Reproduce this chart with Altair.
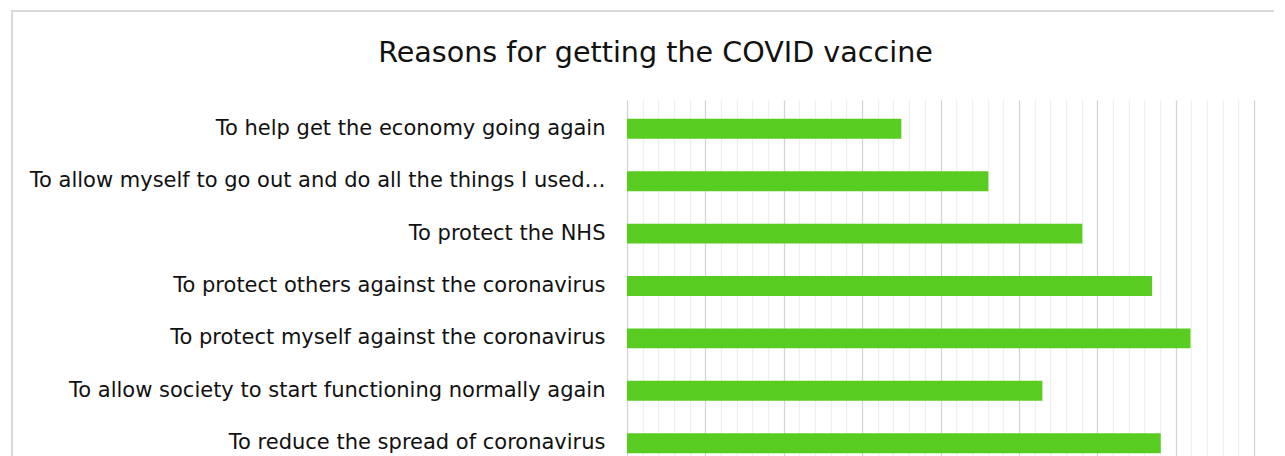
import altair as alt
import pandas as pd

reasons = [
    "To help get the economy going again",
    "To allow myself to go out and do all the things I used…",
    "To protect the NHS",
    "To protect others against the coronavirus",
    "To protect myself against the coronavirus",
    "To allow society to start functioning normally again",
    "To reduce the spread of coronavirus",
]
shares = [35.0, 46.1, 58.1, 67.0, 71.9, 53.0, 68.1]
grid_values = list(range(0, 81, 2))

df = pd.DataFrame({"reason": reasons, "share": shares})

FONT = "DejaVu Sans"

bars = alt.Chart(df).mark_bar(color="#59CC22").encode(
    x=alt.X(
        "share:Q",
        scale=alt.Scale(domain=[0, 80], nice=False),
        axis=alt.Axis(
            values=grid_values,
            labels=False,
            ticks=False,
            domain=False,
            title=None,
            grid=True,
            gridColor=alt.condition("datum.value % 10 === 0", alt.value("#d4d4d4"), alt.value("#efefef")),
            gridWidth=1.3,
        ),
    ),
    y=alt.Y(
        "reason:N",
        sort=None,
        scale=alt.Scale(paddingInner=0.62, paddingOuter=0.36),
        axis=alt.Axis(
            title=None,
            ticks=False,
            domain=False,
            labelPadding=22,
            labelLimit=700,
            labelFont=FONT,
            labelFontSize=21,
            labelColor="#111111",
        ),
    ),
)

border = alt.Chart(df).mark_rect(fill=None, stroke="#d9d9d9", strokeWidth=2).encode(
    x=alt.value(-615), x2=alt.value(680), y=alt.value(-89), y2=alt.value(600)
)

chart = alt.layer(border, bars).properties(
    width=627,
    height=372,
    padding={"left": 619, "top": 92, "right": 20, "bottom": 0},
    autosize=alt.AutoSizeParams(type="none"),
    title=alt.TitleParams(
        text="Reasons for getting the COVID vaccine",
        font=FONT,
        fontSize=28.6,
        fontWeight="normal",
        color="#111111",
        anchor="middle",
        baseline="alphabetic",
        dx=-285,
        dy=81,
        offset=0,
    ),
).configure_view(stroke=None)

chart.save("out.html", embed_options={"renderer": "svg", "actions": False})
